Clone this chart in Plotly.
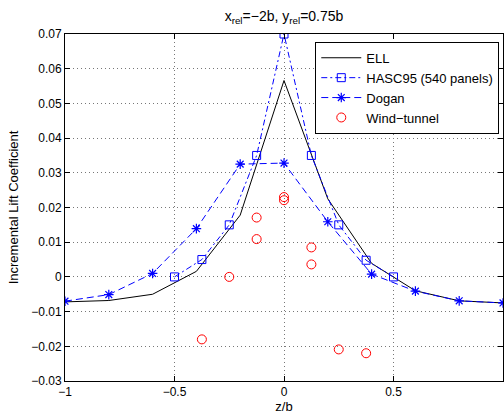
import plotly.graph_objects as go

# ---- data ----
ell_z = [-1.0, -0.8, -0.6, -0.4, -0.2, 0.0, 0.2, 0.4, 0.6, 0.8, 1.0]
ell_cl = [-0.0072, -0.0068, -0.0050, 0.0016, 0.0178, 0.0566, 0.0225, 0.0039, -0.0040, -0.0069, -0.0075]

hasc_z = [-0.5, -0.375, -0.25, -0.125, 0.0, 0.125, 0.25, 0.375, 0.5]
hasc_cl = [0.0, 0.005, 0.015, 0.035, 0.070, 0.035, 0.015, 0.0048, 0.0]

dogan_z = [-1.0, -0.8, -0.6, -0.4, -0.2, 0.0, 0.2, 0.4, 0.6, 0.8, 1.0]
dogan_cl = [-0.0070, -0.0051, 0.0010, 0.0139, 0.0325, 0.0328, 0.0159, 0.0008, -0.0041, -0.0069, -0.0075]

wt_z = [-0.375, -0.25, -0.125, -0.125, 0.0, 0.0, 0.125, 0.125, 0.25, 0.375]
wt_cl = [-0.0180, 0.0, 0.0171, 0.0109, 0.0230, 0.0221, 0.0085, 0.0036, -0.0209, -0.0220]

xticks = [-1, -0.5, 0, 0.5, 1]
yticks = [-0.03, -0.02, -0.01, 0, 0.01, 0.02, 0.03, 0.04, 0.05, 0.06, 0.07]

FONT = "Liberation Sans, Arial, Helvetica, sans-serif"
BLUE = "#0000ff"
RED = "#ff0000"

fig = go.Figure()
fig.add_trace(go.Scatter(x=ell_z, y=ell_cl, mode="lines", name="ELL",
                         line=dict(color="black", width=1)))
fig.add_trace(go.Scatter(x=hasc_z, y=hasc_cl, mode="lines+markers", name="HASC95 (540 panels)",
                         line=dict(color=BLUE, width=1, dash="6px,3px,2px,3px"),
                         marker=dict(symbol="square-open", size=8, color=BLUE,
                                     line=dict(color=BLUE, width=1))))
fig.add_trace(go.Scatter(x=dogan_z, y=dogan_cl, mode="lines+markers", name="Dogan",
                         line=dict(color=BLUE, width=1, dash="7px,4px"),
                         marker=dict(symbol="asterisk-open", size=8, color=BLUE,
                                     line=dict(color=BLUE, width=1.2))))
fig.add_trace(go.Scatter(x=wt_z, y=wt_cl, mode="markers", name="Wind\u2212tunnel",
                         marker=dict(symbol="circle-open", size=9, color=RED,
                                     line=dict(color=RED, width=1))))

axis_common = dict(
    showline=True, linecolor="black", linewidth=1, mirror="ticks",
    ticks="inside", ticklen=5, tickcolor="black", tickwidth=1,
    showgrid=True, gridcolor="#777777", gridwidth=1, griddash="1px,3px",
    zeroline=False, automargin=False,
    tickfont=dict(family=FONT, size=12, color="black"),
)

fig.update_xaxes(range=[-1, 1], tickvals=xticks,
                 title=dict(text="z/b", font=dict(family=FONT, size=13, color="black"), standoff=2),
                 **axis_common)
fig.update_yaxes(range=[-0.03, 0.07], tickvals=yticks,
                 title=dict(text="Incremental Lift Coefficient", font=dict(family=FONT, size=13, color="black"), standoff=9),
                 **axis_common)

fig.update_layout(
    width=504, height=414,
    margin=dict(l=65, r=1, t=34, b=33, pad=0, autoexpand=False),
    paper_bgcolor="white", plot_bgcolor="white",
    font=dict(family=FONT, size=12, color="black"),
    title=dict(text="x<sub>rel</sub>=\u22122b, y<sub>rel</sub>=0.75b",
               x=0.5635, xanchor="center", y=1 - 16 / 414, yanchor="middle",
               font=dict(family=FONT, size=14, color="black"), automargin=False),
    showlegend=True,
    legend=dict(x=0.9915, xanchor="right", y=0.9775, yanchor="top",
                bgcolor="white", bordercolor="black", borderwidth=1,
                font=dict(family=FONT, size=13, color="black"),
                tracegroupgap=0, itemwidth=40, entrywidth=150, entrywidthmode="pixels"),
)

fig.write_html(
    "out.html",
    config={"displayModeBar": False},
    post_script="document.body.style.margin='0px';document.body.style.overflow='hidden';"
                "document.documentElement.style.overflow='hidden';",
)
